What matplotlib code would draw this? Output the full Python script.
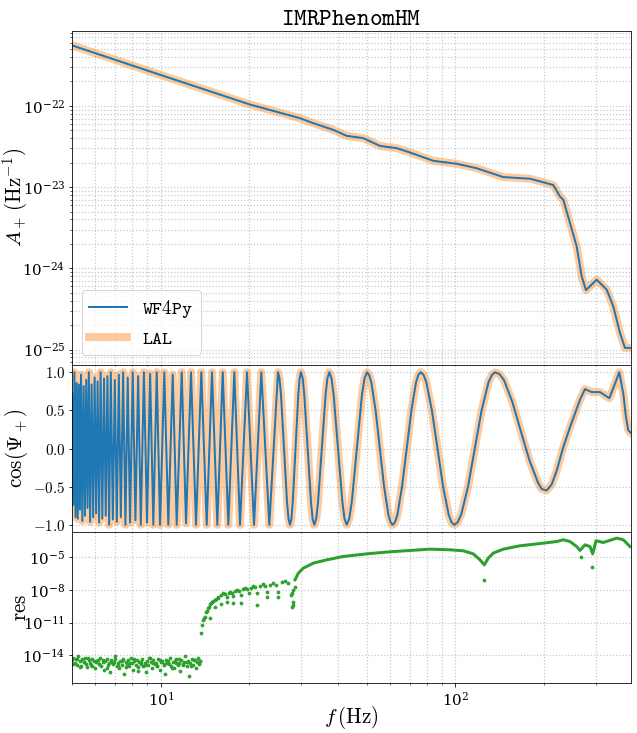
import numpy as np
import matplotlib
matplotlib.use('Agg')
import matplotlib.pyplot as plt
from matplotlib.ticker import FuncFormatter, FixedLocator, NullLocator, NullFormatter

plt.rcParams['mathtext.fontset'] = 'cm'
plt.rcParams['font.family'] = 'serif'
plt.rcParams['font.serif'] = ['DejaVu Serif']

# ---- top panel: plus-polarisation amplitude (Hz, 1/Hz)
amp_f = [5.0, 10.0, 20.09, 29.69, 32.95, 38.52, 42.78,
         48.71, 55.50, 63.24, 70.17, 84.20, 101.1, 118.2, 145.5, 179.3, 204.3,
         215.2, 226.7, 232.7, 245.2, 258.4, 268.7, 277.8, 302.1, 326.7, 344.0,
         362.5, 376.9, 393.5]
amp_val = [5.55e-22, 2.40e-22, 1.04e-22, 7.06e-23,
           6.13e-23, 5.07e-23, 4.28e-23, 4.01e-23, 3.22e-23, 3.02e-23, 2.67e-23,
           2.11e-23, 1.94e-23, 1.71e-23, 1.33e-23, 1.27e-23, 1.12e-23, 1.06e-23,
           7.67e-24, 6.98e-24, 3.61e-24, 1.86e-24, 7.96e-25, 5.40e-25, 7.26e-25,
           5.47e-25, 3.40e-25, 1.60e-25, 1.05e-25, 1.05e-25]

# ---- middle panel: cos(Psi_+), extrema and points along the curve
cos_f = [5.0, 5.045, 5.089, 5.133, 5.177, 5.222, 5.267, 5.313, 5.358,
         5.413, 5.468, 5.524, 5.581, 5.638, 5.695, 5.754,
         5.821, 5.890, 5.960, 6.030, 6.101, 6.173, 6.246,
         6.329, 6.414, 6.500, 6.587, 6.675, 6.764,
         6.871, 6.979, 7.089, 7.201, 7.315,
         7.447, 7.582, 7.720, 7.860,
         8.028, 8.199, 8.374, 8.552,
         8.762, 8.977, 9.198, 9.431,
         9.685, 9.938, 10.277, 10.604, 10.975, 11.324, 11.775, 12.178, 12.663,
         13.168, 13.725, 14.317, 14.923, 15.554, 16.225, 16.951, 17.765, 18.575,
         19.620, 20.724, 21.941, 23.357,
         25.001, 25.296, 25.595, 26.824, 27.140, 27.461, 27.763, 28.057,
         29.290, 29.601, 29.927, 30.327, 30.709, 32.361, 32.768, 33.206, 33.703,
         34.194, 36.259, 36.788, 37.338, 37.986, 38.630, 41.349, 42.050, 42.779,
         43.624, 44.520, 48.178, 49.167, 50.138, 50.967, 51.852, 53.625, 55.437,
         57.309, 59.269, 60.299, 61.295, 62.408, 63.590, 65.918, 68.386, 70.946,
         73.544, 74.937, 76.297, 77.986, 79.711, 83.279, 87.006, 90.900, 94.968,
         97.072, 99.219, 101.89, 104.64, 110.44, 116.47, 122.83, 129.63, 133.13,
         136.71, 141.39, 146.22, 156.27, 167.14, 178.77, 191.05, 196.50, 204.34,
         212.49, 220.96, 232.66, 245.17, 254.95, 265.11, 275.68, 290.51, 310.00,
         333.37, 348.56, 360.48, 371.93, 379.87, 386.76, 393.47]
cos_val = [0.72, -0.74, 1.0, -0.90, 0.86, -0.92, 0.84, -0.80, 0.97, -0.95,
           0.82, -0.88, 0.90, -0.78, 1.0, -0.96, 0.84, -0.90, 0.93, -0.85,
           0.88, -0.97, 1.0, -0.92, 0.92, -0.88, 0.95, -1.0, 1.0, -0.93,
           0.90, -0.96, 0.97, -0.90, 1.0, -1.0, 0.93, -0.97, 1.0, -0.94,
           0.95, -1.0, 1.0, -0.97, 0.98, -1.0,
           1.0, -1.0, 1.0, -1.0, 0.97, -1.0, 1.0, -0.98, 1.0,
           -1.0, 1.0, -1.0, 1.0, -1.0, 1.0, -1.0, 1.0, -1.0,
           1.0, -1.0, 1.0, -1.0,
           1.0, 0.92, 0.7, -0.7, -0.92, -1.0, -0.92, -0.7,
           0.7, 0.92, 1.0, 0.92, 0.7, -0.7, -0.92, -1.0, -0.92,
           -0.7, 0.7, 0.92, 1.0, 0.92, 0.7, -0.7, -0.92, -1.0,
           -0.92, -0.7, 0.7, 0.92, 1.0, 0.966, 0.87, 0.5, 0.0,
           -0.5, -0.87, -0.966, -1.0, -0.966, -0.87, -0.5, 0.0, 0.5,
           0.87, 0.966, 1.0, 0.966, 0.87, 0.5, 0.0, -0.5, -0.87,
           -0.966, -1.0, -0.966, -0.87, -0.5, 0.0, 0.5, 0.87, 0.966,
           1.0, 0.974, 0.9, 0.61, 0.22, -0.16, -0.45, -0.53, -0.55,
           -0.47, -0.29, 0.02, 0.28, 0.46, 0.64, 0.78, 0.74, 0.74,
           0.66, 0.85, 1.0, 0.72, 0.41, 0.24, 0.21]

# ---- bottom panel: residuals, log10 values
noise_f = [5.00, 5.05, 5.10, 5.15, 5.20, 5.25, 5.31, 5.36, 5.41, 5.47,
           5.52, 5.58, 5.63, 5.69, 5.75, 5.80, 5.86, 5.92, 5.98, 6.04,
           6.10, 6.16, 6.22, 6.28, 6.35, 6.41, 6.47, 6.54, 6.60, 6.67,
           6.73, 6.80, 6.87, 6.94, 7.01, 7.08, 7.15, 7.22, 7.29, 7.36,
           7.44, 7.51, 7.59, 7.66, 7.74, 7.82, 7.89, 7.97, 8.05, 8.13,
           8.21, 8.30, 8.38, 8.46, 8.55, 8.63, 8.72, 8.81, 8.89, 8.98,
           9.07, 9.16, 9.25, 9.35, 9.44, 9.53, 9.63, 9.73, 9.82, 9.92,
           10.02, 10.12, 10.22, 10.33, 10.43, 10.53, 10.64, 10.75, 10.85, 10.96,
           11.07, 11.18, 11.29, 11.41, 11.52, 11.64, 11.75, 11.87, 11.99, 12.11,
           12.23, 12.35, 12.48, 12.60, 12.73, 12.86, 12.99, 13.12, 13.25, 13.38,
           13.51, 13.60,
           5.03, 5.18, 5.33, 5.50, 5.66, 5.83, 6.01, 6.19, 6.38, 6.57,
           6.77, 6.97, 7.18, 7.40, 7.62, 7.85, 8.09, 8.34, 8.59, 8.85,
           9.11, 9.39, 9.67, 9.96, 10.27, 10.58, 10.90, 11.23, 11.57, 11.92,
           12.28, 12.65, 13.03, 13.43, 13.56]
noise_log = [-14.4, -14.2, -14.7, -14.3, -14.9, -14.1, -14.5, -15.0, -14.3, -14.6,
             -14.2, -14.8, -15.1, -14.4, -14.7, -14.9, -14.3, -14.5, -15.2, -14.6,
             -14.4, -14.8, -14.2, -15.0, -14.6, -15.3, -14.5, -14.3, -14.9, -14.7,
             -15.5, -14.4, -14.8, -14.6, -14.1, -15.0, -14.7, -15.2, -14.5, -14.9,
             -14.3, -15.7, -14.6, -14.8, -14.4, -15.0, -14.2, -14.7, -15.3, -14.5,
             -14.9, -14.4, -15.1, -14.6, -14.8, -14.3, -15.0, -14.7, -15.5, -14.5,
             -14.9, -14.2, -14.6, -15.2, -14.4, -14.8, -14.7, -15.0, -14.3, -15.3,
             -14.6, -14.5, -14.9, -15.7, -14.4, -14.7, -14.8, -14.2, -15.0, -14.6,
             -15.2, -14.5, -14.3, -14.9, -14.7, -15.4, -14.4, -14.8, -14.6, -14.1,
             -15.0, -14.5, -15.9, -14.7, -14.3, -14.9, -14.4, -15.2, -14.6, -14.2,
             -14.8, -14.5,
             -14.8, -14.3, -15.1, -14.6, -14.2, -15.0, -14.5, -14.8, -14.4, -15.2,
             -14.6, -14.3, -14.9, -14.5, -15.1, -14.7, -14.3, -15.4, -14.6, -14.9,
             -14.2, -14.7, -15.0, -14.4, -14.8, -14.5, -15.2, -14.7, -14.3, -14.9,
             -14.6, -15.0, -14.4, -14.7, -14.5]

scal_f = [13.640, 13.768, 13.876, 13.985, 14.095, 14.206, 14.317, 14.430, 14.543,
          14.657, 14.772, 14.888, 15.040, 15.218, 15.397, 15.579,
          15.676, 15.973, 16.301, 16.558, 16.819, 17.004, 17.178, 17.408, 17.627,
          17.905, 18.187, 18.430, 18.677, 18.971, 19.315, 19.620, 19.929, 20.243,
          20.610, 20.935, 21.265, 21.719, 22.182, 22.585, 22.994, 23.540, 24.099,
          24.613, 25.060, 25.735, 26.407, 27.097, 27.676, 27.828, 28.178, 28.488,
          14.692, 15.277, 15.973, 16.740, 17.627, 18.677, 21.166, 22.994, 25.060,
          27.893, 28.046, 28.178]
scal_log = [-11.97, -11.21, -10.75, -10.57, -10.45, -10.02, -9.90, -9.65, -9.53,
            -9.28, -9.19, -9.07, -9.01, -8.92, -8.83, -8.73,
            -8.67, -8.46, -8.30, -8.39, -8.67, -8.30, -8.16, -8.25, -8.55,
            -8.09, -8.00, -8.09, -8.46, -7.94, -7.79, -7.91, -8.30, -7.79,
            -7.63, -7.75, -8.25, -7.63, -7.48, -7.61, -8.16, -7.51, -7.39,
            -7.54, -8.16, -7.29, -7.15, -7.39, -8.46, -8.30, -8.00, -7.70,
            -10.6, -9.53, -9.28, -9.07, -9.22, -9.22, -9.38, -8.61, -8.67,
            -9.53, -9.38, -9.07]

smooth_f = [28.56, 29.30, 30.47, 32.95, 36.59, 41.66, 50.02, 60.02, 70.17, 82.05,
            95.94, 106.46, 115.11, 121.30, 125.45, 129.43, 134.59, 145.54, 165.84,
            198.98, 220.96, 232.66, 245.17, 258.36, 265.11, 275.68, 286.67, 292.78,
            298.10, 300.44, 318.09, 353.2, 371.9, 391.9]
smooth_log = [-7.08, -6.47, -6.01, -5.55, -5.25, -4.94, -4.70, -4.51, -4.39, -4.27,
              -4.33, -4.42, -4.70, -5.25, -5.71, -5.09, -4.63, -4.27, -3.96,
              -3.72, -3.57, -3.41, -3.57, -4.03, -4.39, -3.87, -4.03, -4.70,
              -3.87, -3.50, -3.66, -3.26, -3.41, -4.03]

out_f = [125.45, 266.56, 291.19]
out_log = [-7.08, -5.0, -5.92]

res_ticks = [1e-14, 1e-11, 1e-8, 1e-5]

blue = '#1f77b4'
orange = '#ff7f0e'
green = '#2ca02c'

# drawn at 72 dpi, so sizes in points are pixels
fig = plt.figure(figsize=(637 / 72, 733 / 72), dpi=72)
gs = fig.add_gridspec(3, 1, height_ratios=[334, 168, 151], hspace=0,
                      left=0.1133, right=0.9898, top=0.9577, bottom=0.0678)
ax1 = fig.add_subplot(gs[0])
ax2 = fig.add_subplot(gs[1], sharex=ax1)
ax3 = fig.add_subplot(gs[2], sharex=ax1)

# amplitude
l_lal, = ax1.loglog(amp_f, amp_val, color=orange, lw=8, alpha=0.4, label=r'$\mathtt{LAL}$')
l_wf, = ax1.loglog(amp_f, amp_val, color=blue, lw=2, label=r'$\mathtt{WF4Py}$')
ax1.set_ylim(6.53e-26, 8.36e-22)
ax1.set_ylabel(r'$A_+\,(\mathrm{Hz}^{-1})$', fontsize=21)
ax1.set_title(r'$\mathtt{IMRPhenomHM}$', fontsize=24)
ax1.legend(handles=[l_wf, l_lal], loc='lower left', fontsize=19)

# phase
ax2.semilogx(cos_f, cos_val, color=orange, lw=8, alpha=0.4)
ax2.semilogx(cos_f, cos_val, color=blue, lw=2)
ax2.set_ylim(-1.1, 1.1)
ax2.set_ylabel(r'$\cos(\Psi_+)$', fontsize=21)
ax2.yaxis.set_major_formatter(FuncFormatter(lambda v, p: r'$%.1f$' % v))

# residuals
ax3.loglog(noise_f, 10.0 ** np.array(noise_log), '.', color=green, ms=5.5)
ax3.loglog(scal_f, 10.0 ** np.array(scal_log), '.', color=green, ms=5.5)
ax3.loglog(smooth_f, 10.0 ** np.array(smooth_log), '-', color=green, lw=3)
ax3.loglog(out_f, 10.0 ** np.array(out_log), '.', color=green, ms=5.5)
ax3.set_ylim(2.75e-17, 1.82e-3)
ax3.yaxis.set_major_locator(FixedLocator(res_ticks))
ax3.yaxis.set_minor_locator(NullLocator())
ax3.set_ylabel(r'$\mathrm{res}$', fontsize=21)
ax3.set_xlabel(r'$f\,(\mathrm{Hz})$', fontsize=21)
ax3.xaxis.set_label_coords(0.5, -0.135)

ax1.set_xlim(5.0, 393.5)
ax3.xaxis.set_minor_formatter(NullFormatter())

for ax in (ax1, ax2, ax3):
    ax.grid(True, which='both', ls=':', color='0.78', lw=1.2)
    ax.tick_params(labelsize=15)
    ax.yaxis.set_label_coords(-0.075, 0.5)
for ax in (ax1, ax2):
    plt.setp(ax.get_xticklabels(which='both'), visible=False)

fig.savefig('out.png', dpi=72)
